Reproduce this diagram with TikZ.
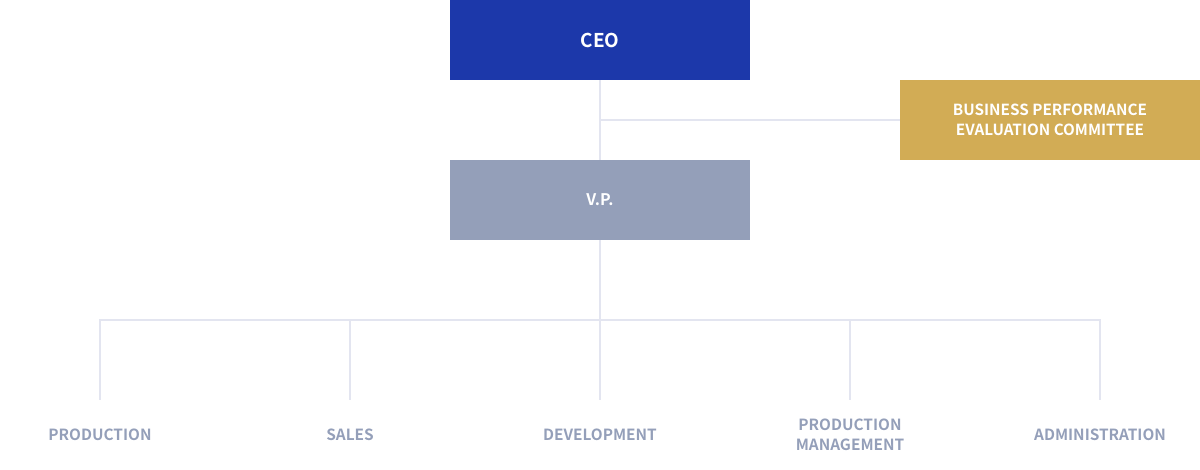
\documentclass[tikz,border=0pt]{standalone}
\usepackage{fontspec}
\setmainfont{Noto Sans CJK KR}[BoldFont={Noto Sans CJK KR Bold}]
\definecolor{ceoblue}{HTML}{1C38AA}
\definecolor{gold}{HTML}{D2AC55}
\definecolor{vpgrey}{HTML}{949FB9}
\definecolor{linec}{HTML}{E3E5F0}
\definecolor{labc}{HTML}{949FB9}
\tikzset{
  box/.style={minimum width=300pt, minimum height=80pt, inner sep=0pt, text=white, font=\bfseries},
  conn/.style={draw=linec, line width=2pt},
  dept/.style={text=labc, font=\bfseries\fontsize{15.4}{20}\selectfont, align=center, inner sep=0pt}
}
\begin{document}
\begin{tikzpicture}[x=1pt,y=-1pt]
\useasboundingbox (0,0) rectangle (1200,470);
\node[box, fill=ceoblue, font=\bfseries\fontsize{19}{24}\selectfont] (ceo) at (600,40) {CEO};
\node[box, fill=gold, align=center, font=\bfseries\fontsize{15.3}{20}\selectfont] (bpec) at (1050,120) {BUSINESS PERFORMANCE\\EVALUATION COMMITTEE};
\node[box, fill=vpgrey, font=\bfseries\fontsize{16}{18}\selectfont] (vp) at (600,200) {V.P.};
\coordinate (j1) at (600,120);
\coordinate (j2) at (600,320);
\coordinate (l1) at (100,320);
\coordinate (r1) at (1100,320);
\coordinate (e1) at (100,400);
\coordinate (e2) at (350,400);
\coordinate (e3) at (600,400);
\coordinate (e4) at (850,400);
\coordinate (e5) at (1100,400);
\node[dept] (d1) at (100,435) {PRODUCTION};
\node[dept] (d2) at (350,435) {SALES};
\node[dept] (d3) at (600,435) {DEVELOPMENT};
\node[dept] (d4) at (850,435) {PRODUCTION\\MANAGEMENT};
\node[dept] (d5) at (1100,435) {ADMINISTRATION};
\draw[conn] (ceo.south) -- (vp.north);
\draw[conn] (j1) -- (bpec.west);
\draw[conn] (vp.south) -- (j2);
\draw[conn] (e1) -- (l1) -- (r1) -- (e5);
\draw[conn] (350,320) -- (e2);
\draw[conn] (j2) -- (e3);
\draw[conn] (850,320) -- (e4);
\end{tikzpicture}
\end{document}
